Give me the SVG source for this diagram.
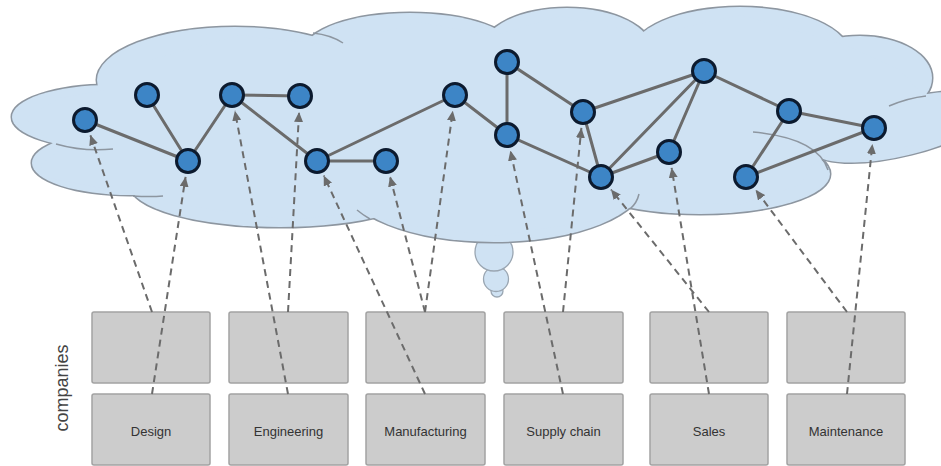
<svg xmlns="http://www.w3.org/2000/svg" xmlns:xlink="http://www.w3.org/1999/xlink" width="941" height="466" viewBox="0 0 941 466">
<style>
.cs{fill:none;stroke:#8d96a0;stroke-width:3}
.cf{fill:#cfe2f3;stroke:none}
.cl{fill:none;stroke:#8d96a0;stroke-width:1.5}
.bub{fill:#cfe2f3;stroke:#9aa6b2;stroke-width:1.3}
.box{fill:#cccccc;stroke:#a2a2a2;stroke-width:1.5}
.lbl{font-family:"Liberation Sans",Arial,sans-serif;font-size:13px;fill:#333;text-anchor:middle}
.edge{stroke:#6b6b6b;stroke-width:3;fill:none;stroke-linecap:round}
.dash{stroke:#6b6b6b;stroke-width:2;fill:none;stroke-dasharray:7 5;marker-end:url(#ah)}
.node{fill:#3d85c6;stroke:#0c1a2e;stroke-width:3}
</style>
<defs>
<marker id="ah" markerUnits="userSpaceOnUse" markerWidth="10" markerHeight="9" refX="10" refY="4.5" orient="auto" viewBox="0 0 10 9">
<path d="M0,0 L10,4.5 L0,9 z" fill="#6b6b6b"/>
</marker>
<g id="lobes">
<ellipse cx="110" cy="117" rx="98" ry="32"/>
<ellipse cx="130" cy="163" rx="98" ry="32"/>
<ellipse cx="235" cy="80" rx="138" ry="53"/>
<ellipse cx="410" cy="50" rx="105" ry="37"/>
<ellipse cx="567" cy="50" rx="85" ry="42"/>
<ellipse cx="740" cy="55" rx="110" ry="48"/>
<ellipse cx="860" cy="78" rx="72" ry="42"/>
<ellipse cx="905" cy="127" rx="95" ry="28" transform="rotate(-14 905 127)"/>
<ellipse cx="700" cy="174" rx="130" ry="40"/>
<ellipse cx="494" cy="182" rx="150" ry="60"/>
<ellipse cx="280" cy="185" rx="150" ry="42"/>
</g>
</defs>
<rect x="0" y="0" width="941" height="466" fill="#ffffff"/>
<g id="bubbles">
<circle class="bub" cx="497" cy="291" r="6"/>
<circle class="bub" cx="496" cy="279" r="12.5"/>
<circle class="bub" cx="494" cy="252" r="19"/>
</g>
<g id="cloud">
<use xlink:href="#lobes" class="cs"/>
<use xlink:href="#lobes" class="cf"/>
<polygon class="cf" points="105,90 150,60 240,35 330,45 420,22 493,36 560,16 650,35 740,15 845,45 900,70 920,92 941,100 941,140 900,148 830,155 812,165 800,185 740,205 640,200 600,220 494,236 400,224 362,212 290,220 180,205 140,195 100,188 50,178 40,165 60,150 25,118 60,98"/>
<path class="cl" d="M56,144 Q84,152 113,149"/>
<path class="cl" d="M133,196 Q150,197 163,196"/>
<path class="cl" d="M313,33 Q331,35 343,43"/>
<path class="cl" d="M889,106 Q908,98 926,96"/>
<path class="cl" d="M753,132 Q818,138 828,170"/>
<path class="cl" d="M630,209 Q637,203 639,194"/>
<path class="cl" d="M357,210 Q363,215 370,219"/>
</g>
<text transform="translate(68,388) rotate(-90)" style="font-family:'Liberation Sans',Arial,sans-serif;font-size:18px;fill:#444;text-anchor:middle">companies</text>
<g id="box-design-top"><rect class="box" x="92" y="312" width="118" height="71" rx="2"/></g>
<g id="box-engineering-top"><rect class="box" x="229" y="312" width="119" height="71" rx="2"/></g>
<g id="box-manufacturing-top"><rect class="box" x="366" y="312" width="119" height="71" rx="2"/></g>
<g id="box-supply-top"><rect class="box" x="504" y="312" width="119" height="71" rx="2"/></g>
<g id="box-sales-top"><rect class="box" x="650" y="312" width="118" height="71" rx="2"/></g>
<g id="box-maintenance-top"><rect class="box" x="787" y="312" width="118" height="71" rx="2"/></g>
<g id="box-design"><rect class="box" x="92" y="394" width="118" height="71" rx="2"/><text class="lbl" x="151" y="435.5">Design</text></g>
<g id="box-engineering"><rect class="box" x="229" y="394" width="119" height="71" rx="2"/><text class="lbl" x="288.5" y="435.5">Engineering</text></g>
<g id="box-manufacturing"><rect class="box" x="366" y="394" width="119" height="71" rx="2"/><text class="lbl" x="425.5" y="435.5">Manufacturing</text></g>
<g id="box-supply"><rect class="box" x="504" y="394" width="119" height="71" rx="2"/><text class="lbl" x="563.5" y="435.5">Supply chain</text></g>
<g id="box-sales"><rect class="box" x="650" y="394" width="118" height="71" rx="2"/><text class="lbl" x="709" y="435.5">Sales</text></g>
<g id="box-maintenance"><rect class="box" x="787" y="394" width="118" height="71" rx="2"/><text class="lbl" x="846" y="435.5">Maintenance</text></g>
<g id="connectors">
<g id="edges">
<line class="edge" x1="85" y1="120" x2="188" y2="161"/>
<line class="edge" x1="147" y1="95" x2="188" y2="161"/>
<line class="edge" x1="188" y1="161" x2="232" y2="95"/>
<line class="edge" x1="232" y1="95" x2="300" y2="96"/>
<line class="edge" x1="232" y1="95" x2="317" y2="161"/>
<line class="edge" x1="317" y1="161" x2="386" y2="161"/>
<line class="edge" x1="317" y1="161" x2="455" y2="95"/>
<line class="edge" x1="455" y1="95" x2="507" y2="135"/>
<line class="edge" x1="507" y1="62" x2="507" y2="135"/>
<line class="edge" x1="507" y1="62" x2="583" y2="112"/>
<line class="edge" x1="507" y1="135" x2="601" y2="177"/>
<line class="edge" x1="583" y1="112" x2="601" y2="177"/>
<line class="edge" x1="583" y1="112" x2="704" y2="71"/>
<line class="edge" x1="601" y1="177" x2="704" y2="71"/>
<line class="edge" x1="601" y1="177" x2="669" y2="152"/>
<line class="edge" x1="669" y1="152" x2="704" y2="71"/>
<line class="edge" x1="704" y1="71" x2="789" y2="111"/>
<line class="edge" x1="789" y1="111" x2="746" y2="177"/>
<line class="edge" x1="789" y1="111" x2="874" y2="128"/>
<line class="edge" x1="874" y1="128" x2="746" y2="177"/>
</g>
<g id="links">
<path class="dash" d="M152,312 L90.3,135.1"/>
<path class="dash" d="M152,394 L185.6,176.8"/>
<path class="dash" d="M288,394 L234.9,110.7"/>
<path class="dash" d="M288,312 L299.1,112"/>
<path class="dash" d="M425,394 L323.7,175.5"/>
<path class="dash" d="M425,312 L390,176.5"/>
<path class="dash" d="M425,312 L452.8,110.8"/>
<path class="dash" d="M563,394 L510.4,150.6"/>
<path class="dash" d="M563,312 L581.4,127.9"/>
<path class="dash" d="M709,312 L611,189.5"/>
<path class="dash" d="M709,394 L671.6,167.8"/>
<path class="dash" d="M847,312 L755.6,189.8"/>
<path class="dash" d="M847,394 L872.4,143.9"/>
</g>
</g>
<g id="n1"><circle class="node" cx="85" cy="120" r="11.5"/></g>
<g id="n2"><circle class="node" cx="147" cy="95" r="11.5"/></g>
<g id="n3"><circle class="node" cx="188" cy="161" r="11.5"/></g>
<g id="n4"><circle class="node" cx="232" cy="95" r="11.5"/></g>
<g id="n5"><circle class="node" cx="300" cy="96" r="11.5"/></g>
<g id="n6"><circle class="node" cx="317" cy="161" r="11.5"/></g>
<g id="n7"><circle class="node" cx="386" cy="161" r="11.5"/></g>
<g id="n8"><circle class="node" cx="455" cy="95" r="11.5"/></g>
<g id="n9"><circle class="node" cx="507" cy="62" r="11.5"/></g>
<g id="n10"><circle class="node" cx="507" cy="135" r="11.5"/></g>
<g id="n11"><circle class="node" cx="583" cy="112" r="11.5"/></g>
<g id="n12"><circle class="node" cx="601" cy="177" r="11.5"/></g>
<g id="n13"><circle class="node" cx="704" cy="71" r="11.5"/></g>
<g id="n14"><circle class="node" cx="669" cy="152" r="11.5"/></g>
<g id="n15"><circle class="node" cx="789" cy="111" r="11.5"/></g>
<g id="n16"><circle class="node" cx="874" cy="128" r="11.5"/></g>
<g id="n17"><circle class="node" cx="746" cy="177" r="11.5"/></g>
</svg>
